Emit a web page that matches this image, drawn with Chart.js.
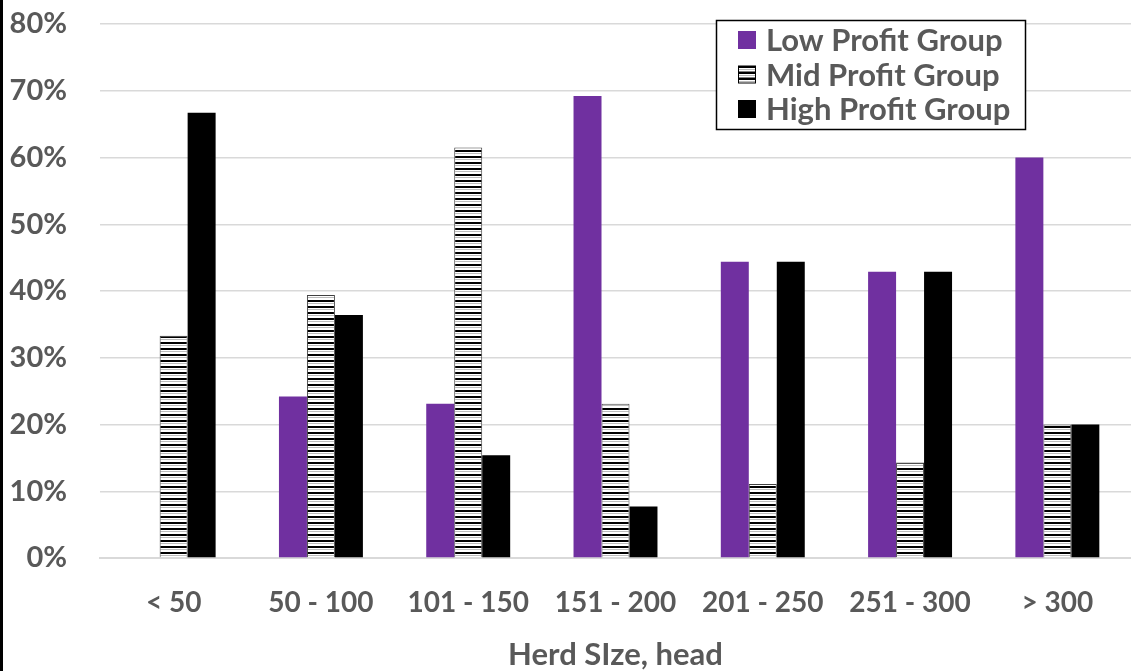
<!DOCTYPE html>
<html lang="en">
<head>
    <meta charset="UTF-8">
    <title>Herd Size by Profit Group</title>
    <script src="https://cdn.jsdelivr.net/npm/chart.js@4.4.0/dist/chart.umd.min.js"></script>
    <style>
        html, body { margin: 0; padding: 0; background: #fff; }
        #wrap { position: relative; width: 1131px; height: 671px; }
    </style>
</head>
<body>
    <div id="wrap"><canvas id="myChart"></canvas></div>
    <script>
        const herdSizes = ['< 50', '50 - 100', '101 - 150', '151 - 200', '201 - 250', '251 - 300', '> 300'];
        const lowProfit = [0, 24.2, 23.1, 69.2, 44.4, 42.9, 60.0];
        const midProfit = [33.3, 39.4, 61.5, 23.1, 11.1, 14.3, 20.0];
        const highProfit = [66.7, 36.4, 15.4, 7.7, 44.4, 42.9, 20.0];
        const yTicks = [0, 10, 20, 30, 40, 50, 60, 70, 80];

        const textColor = '#595959';
        const fontFamily = 'Lato, "Open Sans", sans-serif';

        // horizontal stripes for the mid group
        function makeStripes() {
            const c = document.createElement('canvas');
            c.width = 8; c.height = 6;
            const g = c.getContext('2d');
            g.fillStyle = '#fff';
            g.fillRect(0, 0, 8, 6);
            g.fillStyle = '#000';
            g.fillRect(0, 0, 8, 2);
            g.fillStyle = '#bbb';
            g.fillRect(0, 3, 8, 1);
            return g.createPattern(c, 'repeat');
        }
        const stripes = makeStripes();

        const boxLegend = {
            id: 'boxLegend',
            afterDraw(chart) {
                const ctx = chart.ctx;
                ctx.save();
                // left edge of the chart frame
                ctx.fillStyle = '#000';
                ctx.fillRect(0, 0, 3, chart.height);

                const x = 716, y = 20, w = 309, h = 109;
                ctx.fillStyle = '#fff';
                ctx.fillRect(x, y, w, h);
                ctx.strokeStyle = '#000';
                ctx.lineWidth = 1.5;
                ctx.strokeRect(x + 0.5, y + 0.5, w, h);

                ctx.font = 'bold 31px ' + fontFamily;
                ctx.textBaseline = 'middle';
                chart.data.datasets.forEach((ds, i) => {
                    const cy = 40 + i * 34.5;
                    ctx.fillStyle = ds.backgroundColor;
                    ctx.fillRect(738, cy - 9, 18, 18);
                    if (ds.borderWidth) {
                        ctx.strokeStyle = '#000';
                        ctx.lineWidth = 1;
                        ctx.strokeRect(738.5, cy - 8.5, 17, 17);
                    }
                    if (i === 1) {
                        ctx.fillStyle = '#000';
                        ctx.fillRect(738, cy - 3, 18, 1.5);
                        ctx.fillRect(738, cy + 3, 18, 1.5);
                    }
                    ctx.fillStyle = textColor;
                    ctx.fillText(ds.label, 766, cy + 1);
                });
                ctx.restore();
            }
        };

        const ctx = document.getElementById('myChart').getContext('2d');
        const myChart = new Chart(ctx, {
            type: 'bar',
            data: {
                labels: herdSizes,
                datasets: [{
                    label: 'Low Profit Group',
                    data: lowProfit,
                    backgroundColor: '#7030A0',
                    borderWidth: 0
                }, {
                    label: 'Mid Profit Group',
                    data: midProfit,
                    backgroundColor: stripes,
                    borderColor: '#404040',
                    borderWidth: 1
                }, {
                    label: 'High Profit Group',
                    data: highProfit,
                    backgroundColor: '#000',
                    borderWidth: 0
                }]
            },
            options: {
                responsive: true,
                maintainAspectRatio: false,
                animation: false,
                layout: { padding: { top: 24, right: 0, left: 0, bottom: 0 } },
                datasets: {
                    bar: { categoryPercentage: 0.57, barPercentage: 1.0 }
                },
                plugins: {
                    legend: { display: false },
                    tooltip: { enabled: false }
                },
                scales: {
                    x: {
                        grid: { display: false, drawTicks: false },
                        border: { color: '#d9d9d9', width: 2 },
                        ticks: {
                            color: textColor,
                            font: { family: fontFamily, size: 28, weight: 'bold' },
                            padding: 28,
                            maxRotation: 0,
                            autoSkip: false
                        },
                        title: {
                            display: true,
                            text: 'Herd SIze, head',
                            color: textColor,
                            font: { family: fontFamily, size: 31, weight: 'bold' },
                            padding: { top: 10, bottom: -3 }
                        },
                        afterFit: s => {
                            s.height = 113;
                            s.paddingLeft = 0;
                            s.paddingRight = 0;
                        }
                    },
                    y: {
                        min: 0,
                        max: 80,
                        afterBuildTicks: s => { s.ticks = yTicks.map(v => ({ value: v })); },
                        grid: { color: '#d9d9d9', lineWidth: 1.5, drawTicks: false },
                        border: { display: false },
                        ticks: {
                            color: textColor,
                            font: { family: fontFamily, size: 29, weight: 'bold' },
                            padding: 33,
                            callback: v => v + '%'
                        },
                        afterFit: s => {
                            s.width = 100;
                            s.paddingTop = 0;
                            s.paddingBottom = 0;
                        }
                    }
                }
            },
            plugins: [boxLegend]
        });
    </script>
</body>
</html>
